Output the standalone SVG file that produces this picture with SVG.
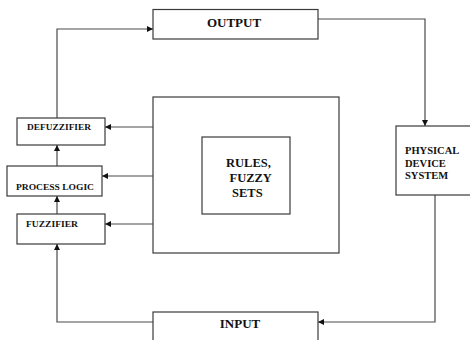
<svg xmlns="http://www.w3.org/2000/svg" width="470" height="340" viewBox="0 0 470 340">
  <style>
    .box { fill: #fff; stroke: #3a3a3a; stroke-width: 1.2; }
    .wire { fill: none; stroke: #4a4a4a; stroke-width: 1.2; }
    .lbl { font-family: "Liberation Serif", "Times New Roman", serif; font-weight: bold; fill: #111; }
  </style>
  <defs>
    <marker id="arrow" viewBox="0 0 10 10" refX="10" refY="5" markerWidth="6" markerHeight="6" markerUnits="userSpaceOnUse" orient="auto">
      <path d="M0,0 L10,5 L0,10 Z" fill="#111"/>
    </marker>
  </defs>
  <rect width="470" height="340" fill="#fff"/>

  <!-- connectors -->
  <g id="connectors" class="wire">
    <path d="M57,118 V29 H153" marker-end="url(#arrow)"/>
    <path d="M318,19 H425 V126" marker-end="url(#arrow)"/>
    <path d="M435,195 V322 H318" marker-end="url(#arrow)"/>
    <path d="M153,322 H57 V244" marker-end="url(#arrow)"/>
    <path d="M57,214 V196" marker-end="url(#arrow)"/>
    <path d="M57,166 V145" marker-end="url(#arrow)"/>
    <path d="M153,127 H105" marker-end="url(#arrow)"/>
    <path d="M153,176 H102" marker-end="url(#arrow)"/>
    <path d="M153,224 H105" marker-end="url(#arrow)"/>
  </g>

  <g id="output">
    <rect class="box" x="153" y="9.5" width="165" height="29.5"/>
    <text class="lbl" x="234" y="26.5" font-size="13" text-anchor="middle">OUTPUT</text>
  </g>

  <g id="knowledge-base">
    <rect class="box" x="153" y="97" width="186" height="156"/>
  </g>

  <g id="rules">
    <rect class="box" x="202" y="137" width="88" height="77"/>
    <text class="lbl" font-size="12.5">
      <tspan x="226" y="167">RULES,</tspan>
      <tspan x="229.5" y="182">FUZZY</tspan>
      <tspan x="232" y="197">SETS</tspan>
    </text>
  </g>

  <g id="defuzzifier">
    <rect class="box" x="17" y="118" width="88" height="27"/>
    <text class="lbl" x="27" y="130" font-size="8.5" textLength="64" lengthAdjust="spacingAndGlyphs">DEFUZZIFIER</text>
  </g>

  <g id="process-logic">
    <rect class="box" x="7" y="166" width="95" height="30"/>
    <text class="lbl" x="16" y="190" font-size="8.5" textLength="78" lengthAdjust="spacingAndGlyphs">PROCESS  LOGIC</text>
  </g>

  <g id="fuzzifier">
    <rect class="box" x="17" y="214" width="88" height="30"/>
    <text class="lbl" x="26" y="227" font-size="8.5" textLength="52" lengthAdjust="spacingAndGlyphs">FUZZIFIER</text>
  </g>

  <g id="physical-device">
    <rect class="box" x="396" y="126" width="76" height="69"/>
    <text class="lbl" font-size="10.5">
      <tspan x="405" y="154">PHYSICAL</tspan>
      <tspan x="405" y="167">DEVICE</tspan>
      <tspan x="405" y="179">SYSTEM</tspan>
    </text>
  </g>

  <g id="input">
    <rect class="box" x="153" y="312" width="165" height="32"/>
    <text class="lbl" x="240" y="328" font-size="13" text-anchor="middle">INPUT</text>
  </g>
</svg>
